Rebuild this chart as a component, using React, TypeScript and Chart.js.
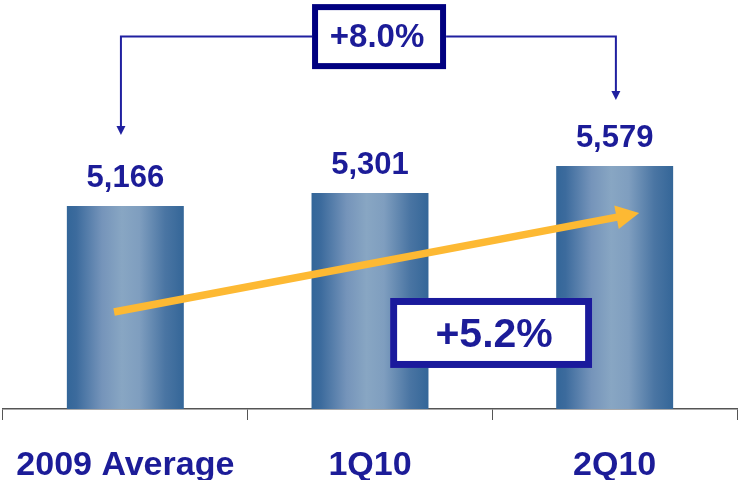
import React, { useEffect, useRef } from "react";
import { Chart, registerables } from "chart.js";

Chart.register(...registerables);

// ---- data ----
const categories: string[] = ["2009 Average", "1Q10", "2Q10"];
const values: number[] = [5166, 5301, 5579];
const valueLabels: string[] = ["5,166", "5,301", "5,579"];
const overallChangeLabel = "+8.0%";
const recentChangeLabel = "+5.2%";

// value-axis window (axis is hidden, bars start from yMin)
const yMin = 3070;
const yMax = 7293;

// annotation anchors in data space: [category index, value]
const overallBoxAt: [number, number] = [1.037, 6915];
const overallLeftTip: [number, number] = [-0.018, 5900];
const overallRightTip: [number, number] = [2.005, 6260];
const recentBoxAt: [number, number] = [1.495, 3855];
const trendFrom: [number, number] = [-0.046, 4072];
const trendTo: [number, number] = [2.1, 5094];

const NAVY = "#1c1c98";
const BAR_PCT = 0.478;
const FONT = '"Liberation Sans", Arial, sans-serif';

function barGradient(ctx: any) {
  const chart = ctx.chart;
  const xs = chart.scales && chart.scales.x;
  if (!xs || !chart.chartArea || ctx.type !== "data") return "#5f86ae";
  const center = xs.getPixelForValue(ctx.dataIndex);
  const w = (xs.width / categories.length) * BAR_PCT;
  const g = chart.ctx.createLinearGradient(center - w / 2, 0, center + w / 2, 0);
  g.addColorStop(0, "#336699");
  g.addColorStop(0.08, "#3c6b9d");
  g.addColorStop(0.3, "#7594ba");
  g.addColorStop(0.47, "#88a6c3");
  g.addColorStop(0.62, "#7f9ebf");
  g.addColorStop(0.84, "#4a75a3");
  g.addColorStop(1, "#346698");
  return g;
}

const annotationPlugin = {
  id: "annotations",
  afterDatasetsDraw(chart: any) {
    const ctx = chart.ctx as CanvasRenderingContext2D;
    const xs = chart.scales.x;
    const ys = chart.scales.y;
    const px = (p: [number, number]) => [xs.getPixelForValue(p[0]), ys.getPixelForValue(p[1])];
    const meta = chart.getDatasetMeta(0);

    ctx.save();

    // trend arrow
    const [sx, sy] = px(trendFrom);
    const [ex, ey] = px(trendTo);
    const ang = Math.atan2(ey - sy, ex - sx);
    const headLen = 23;
    const headHalf = 12;
    const bx = ex - headLen * Math.cos(ang);
    const by = ey - headLen * Math.sin(ang);
    ctx.strokeStyle = "#fdb933";
    ctx.fillStyle = "#fdb933";
    ctx.lineWidth = 7.5;
    ctx.lineCap = "butt";
    ctx.beginPath();
    ctx.moveTo(sx, sy);
    ctx.lineTo(bx + 2 * Math.cos(ang), by + 2 * Math.sin(ang));
    ctx.stroke();
    ctx.beginPath();
    ctx.moveTo(ex, ey);
    ctx.lineTo(bx - headHalf * Math.sin(ang), by + headHalf * Math.cos(ang));
    ctx.lineTo(bx + headHalf * Math.sin(ang), by - headHalf * Math.cos(ang));
    ctx.closePath();
    ctx.fill();

    // value labels
    ctx.fillStyle = NAVY;
    ctx.font = `bold 31px ${FONT}`;
    ctx.textAlign = "center";
    ctx.textBaseline = "alphabetic";
    meta.data.forEach((bar: any, i: number) => {
      ctx.fillText(valueLabels[i], bar.x, bar.y - 19);
    });

    // overall bracket
    const [obx, oby] = px(overallBoxAt);
    const obW = 134, obH = 65, obB = 6;
    const [lx, ly] = px(overallLeftTip);
    const [rx, ry] = px(overallRightTip);
    ctx.strokeStyle = "#2020a0";
    ctx.fillStyle = "#2020a0";
    ctx.lineWidth = 2;
    ctx.beginPath();
    ctx.moveTo(obx - obW / 2, oby);
    ctx.lineTo(lx, oby);
    ctx.lineTo(lx, ly - 7);
    ctx.moveTo(obx + obW / 2, oby);
    ctx.lineTo(rx, oby);
    ctx.lineTo(rx, ry - 7);
    ctx.stroke();
    const tri = (x: number, y: number) => {
      ctx.beginPath();
      ctx.moveTo(x, y);
      ctx.lineTo(x - 4.5, y - 9);
      ctx.lineTo(x + 4.5, y - 9);
      ctx.closePath();
      ctx.fill();
    };
    tri(lx, ly);
    tri(rx, ry);

    ctx.fillStyle = "#ffffff";
    ctx.fillRect(obx - obW / 2, oby - obH / 2, obW, obH);
    ctx.strokeStyle = "#000080";
    ctx.lineWidth = obB;
    ctx.strokeRect(obx - obW / 2 + obB / 2, oby - obH / 2 + obB / 2, obW - obB, obH - obB);
    ctx.fillStyle = NAVY;
    ctx.font = `bold 33px ${FONT}`;
    ctx.textBaseline = "middle";
    ctx.fillText(overallChangeLabel, obx - 2, oby + 1);

    // recent change box
    const [rbx, rby] = px(recentBoxAt);
    const rbW = 202, rbH = 70, rbB = 7;
    ctx.fillStyle = "#ffffff";
    ctx.fillRect(rbx - rbW / 2, rby - rbH / 2, rbW, rbH);
    ctx.strokeStyle = "#1a1a9c";
    ctx.lineWidth = rbB;
    ctx.strokeRect(rbx - rbW / 2 + rbB / 2, rby - rbH / 2 + rbB / 2, rbW - rbB, rbH - rbB);
    ctx.fillStyle = NAVY;
    ctx.font = `bold 41px ${FONT}`;
    ctx.fillText(recentChangeLabel, rbx + 3, rby + 3);

    ctx.restore();
  },
};

export default function App() {
  const canvasRef = useRef<HTMLCanvasElement | null>(null);

  useEffect(() => {
    document.body.style.margin = "0";
    const canvas = canvasRef.current;
    if (!canvas) return;
    const chart = new Chart(canvas, {
      type: "bar",
      data: {
        labels: categories,
        datasets: [
          {
            data: values,
            backgroundColor: barGradient as any,
            borderWidth: 0,
            barPercentage: BAR_PCT,
            categoryPercentage: 1,
          },
        ],
      },
      options: {
        responsive: false,
        animation: false,
        events: [],
        layout: { padding: { left: 3, right: 1, top: 0, bottom: 0 } },
        plugins: {
          legend: { display: false },
          tooltip: { enabled: false },
          title: { display: false },
        },
        scales: {
          x: {
            offset: true,
            grid: {
              display: true,
              offset: true,
              drawOnChartArea: false,
              drawTicks: true,
              tickLength: 11,
              color: "#555555",
              lineWidth: 1,
            },
            border: { display: true, color: "#555555", width: 1.5 },
            ticks: {
              color: NAVY,
              font: { family: FONT, size: 34, weight: "bold" },
              padding: 25,
              maxRotation: 0,
              autoSkip: false,
            },
            afterFit: (s: any) => {
              s.height = 71;
              s.paddingLeft = 0;
              s.paddingRight = 0;
            },
          },
          y: {
            display: false,
            min: yMin,
            max: yMax,
          },
        },
      },
      plugins: [annotationPlugin],
    });
    return () => chart.destroy();
  }, []);

  return (
    <div style={{ width: 738, height: 480, background: "#ffffff" }}>
      <canvas ref={canvasRef} width={738} height={480} style={{ display: "block" }} />
    </div>
  );
}
